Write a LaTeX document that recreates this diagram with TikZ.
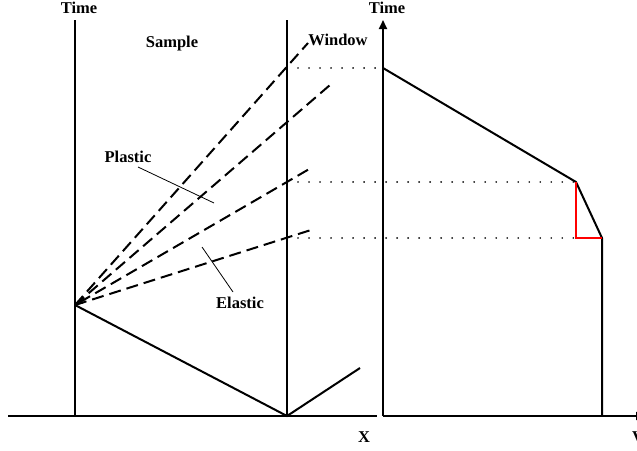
\documentclass[tikz,border=0pt]{standalone}
\usepackage{fontspec}
\setmainfont{Liberation Serif}
\usetikzlibrary{arrows.meta}
\begin{document}
\begin{tikzpicture}[x=1pt,y=-1pt,
  solidline/.style={line width=2pt,black},
  dashline/.style={line width=2pt,dash pattern=on 12pt off 6pt},
  dotline/.style={line width=1.8pt,dash pattern=on 0.01pt off 11pt,line cap=round},
  leader/.style={line width=0.8pt},
  lbl/.style={font=\bfseries\fontsize{16.5}{19}\selectfont,inner sep=0pt}]
\useasboundingbox (0,0) rectangle (637,450);
\clip (0,0) rectangle (637,450);
% coordinates
\coordinate (bl) at (8,416);
\coordinate (br) at (377,416);
\coordinate (lt) at (75,20);
\coordinate (lb) at (75,416);
\coordinate (wt) at (287,20);
\coordinate (wb) at (287,416);
\coordinate (imp) at (75,305);
\coordinate (refl) at (360,368);
\coordinate (d1) at (308,43);
\coordinate (d2) at (330,85);
\coordinate (d3) at (311,168);
\coordinate (d4) at (311,230);
\coordinate (w1) at (287,68);
\coordinate (w3) at (287,182);
\coordinate (w4) at (287,238);
\coordinate (vo) at (383,416);
\coordinate (vt) at (383,20);
\coordinate (ve) at (645,416);
\coordinate (p1) at (383,68);
\coordinate (p2) at (576,182);
\coordinate (p3) at (602,238);
\coordinate (p4) at (602,416);
\coordinate (r1) at (576,238);
% texts
\node[lbl] (time1) at (79,8) {Time};
\node[lbl] (time2) at (387,8) {Time};
\node[lbl] (sample) at (172,44) {Sample};
\node[lbl] (window) at (338,40) {Window};
\node[lbl] (plastic) at (128,157) {Plastic};
\node[lbl] (elastic) at (240,303) {Elastic};
\node[lbl] (xl) at (364,437) {X};
\node[lbl] (vl) at (638,437) {V};
% left diagram
\draw[solidline] (bl) -- (br);
\draw[solidline] (lt) -- (lb);
\draw[solidline] (wt) -- (wb);
\draw[solidline] (imp) -- (wb) -- (refl);
\draw[dashline] (imp) -- (d1);
\draw[dashline] (imp) -- (d2);
\draw[dashline,{Stealth[length=8pt,width=6pt,line width=0pt]}-] (imp) -- (d3);
\draw[dashline] (imp) -- (d4);
\draw[leader] (138,167) -- (214,203);
\draw[leader] (202,247) -- (233,292);
% dotted guides
\draw[dotline] (w1) -- (p1);
\draw[dotline] (w3) -- (p2);
\draw[dotline] (w4) -- (r1);
% right diagram
\draw[solidline,-{Triangle[length=9pt,width=8pt]}] (vo) -- (vt);
\draw[solidline,-{Triangle[length=9pt,width=8pt]}] (vo) -- (ve);
\draw[solidline] (p1) -- (p2) -- (p3) -- (p4);
\draw[line width=2pt,red] (p2) -- (r1) -- (p3);
\end{tikzpicture}
\end{document}
